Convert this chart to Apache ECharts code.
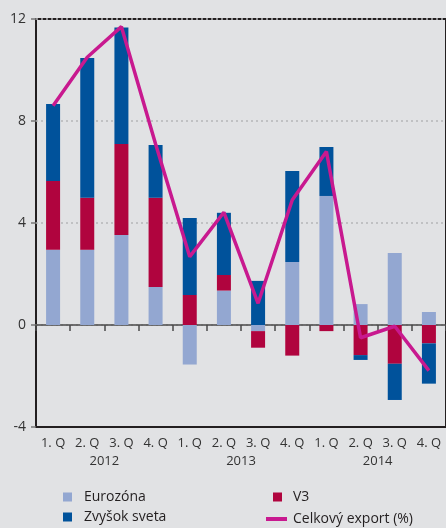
<!DOCTYPE html>
<html>
<head>
<meta charset="utf-8">
<script src="https://cdn.jsdelivr.net/npm/echarts@6/dist/echarts.min.js"></script>
<style>
html,body{margin:0;padding:0;background:#e1e2e4;}
#c{width:446px;height:528px;}
</style>
</head>
<body>
<div id="c"></div>
<script>
const quarters = ['1. Q','2. Q','3. Q','4. Q','1. Q','2. Q','3. Q','4. Q','1. Q','2. Q','3. Q','4. Q'];
const years = ['2012','2013','2014'];
const eurozona = [2.95, 2.95, 3.53, 1.49, -1.55, 1.35, -0.24, 2.47, 5.06, 0.82, 2.82, 0.51];
const v3 = [2.7, 2.04, 3.57, 3.5, 1.18, 0.61, -0.65, -1.2, -0.24, -1.18, -1.52, -0.72];
const zvysok = [3.02, 5.48, 4.57, 2.07, 3.02, 2.44, 1.73, 3.57, 1.92, -0.19, -1.42, -1.58];
const celkovy = [8.6, 10.5, 11.7, 7.1, 2.68, 4.42, 0.85, 4.9, 6.8, -0.5, -0.05, -1.79];
const yTicks = [-4, 0, 4, 8, 12];

const FONT = '"Open Sans", "Noto Sans", sans-serif';
const chart = echarts.init(document.getElementById('c'), null, {renderer:'canvas'});
const sq = 'rect';
const ln = 'rect';
function lg(name, left, top, icon, w, h, pad){
  return {data:[{name:name, icon:icon}], left:left, top:top, itemWidth:w, itemHeight:h,
    itemGap:0, padding:0, selectedMode:false,
    textStyle:{fontFamily:FONT, fontSize:14, color:'#231f20', padding:[0,0,0,pad]}};
}
chart.setOption({
  backgroundColor:'#e1e2e4',
  animation:false,
  legend:[
    lg('Eurozóna', 63, 490, sq, 9, 9, 7),
    lg('Zvyšok sveta', 63, 510, sq, 9, 9, 7),
    lg('V3', 273, 490, sq, 9, 9, 6),
    lg('Celkový export (%)', 266, 512, ln, 21, 4, 1)
  ],
  grid:[
    {left:36, top:19, width:412, height:408, show:true, borderColor:'#231f20', borderWidth:2, backgroundColor:'transparent'},
    {left:36, top:19, width:412, height:408, show:false}
  ],
  xAxis:[
    {type:'category', data:quarters, gridIndex:0, position:'bottom',
      axisLine:{show:true, onZero:false, lineStyle:{color:'#231f20', width:2}},
      axisTick:{show:false},
      axisLabel:{fontFamily:FONT, fontSize:13, color:'#333', margin:10}},
    {type:'category', data:quarters, gridIndex:0, position:'top',
      axisLine:{show:true, onZero:true, lineStyle:{color:'#4a4a4a', width:1.6}},
      axisTick:{show:true, inside:true, length:6, lineStyle:{color:'#4a4a4a', width:1.5}},
      axisLabel:{show:false}},
    {type:'category', data:years, gridIndex:1, position:'bottom',
      axisLine:{show:false}, axisTick:{show:false},
      axisLabel:{fontFamily:FONT, fontSize:13, color:'#333', margin:28}}
  ],
  yAxis:[
    {type:'value', gridIndex:0, min:yTicks[0], max:yTicks[yTicks.length-1], interval:4,
      axisLine:{show:false},
      axisTick:{show:true, length:5, lineStyle:{color:'#777', width:1.5}},
      axisLabel:{fontFamily:FONT, fontSize:14, color:'#333', margin:10},
      splitLine:{show:true, lineStyle:{color:'#b5b6b8', type:[2,3], width:1.5}}},
    {type:'value', gridIndex:1, min:-4, max:12, show:false}
  ],
  series:[
    {name:'Eurozóna', type:'bar', stack:'s', data:eurozona, barWidth:14, itemStyle:{color:'#93a7d1'}},
    {name:'V3', type:'bar', stack:'s', data:v3, barWidth:14, itemStyle:{color:'#b0043e'}},
    {name:'Zvyšok sveta', type:'bar', stack:'s', data:zvysok, barWidth:14, itemStyle:{color:'#00529b'}},
    {name:'Celkový export (%)', type:'line', data:celkovy, showSymbol:false, z:5,
      lineStyle:{color:'#c8198f', width:3.5}, itemStyle:{color:'#c8198f'}}
  ]
});
</script>
</body>
</html>
